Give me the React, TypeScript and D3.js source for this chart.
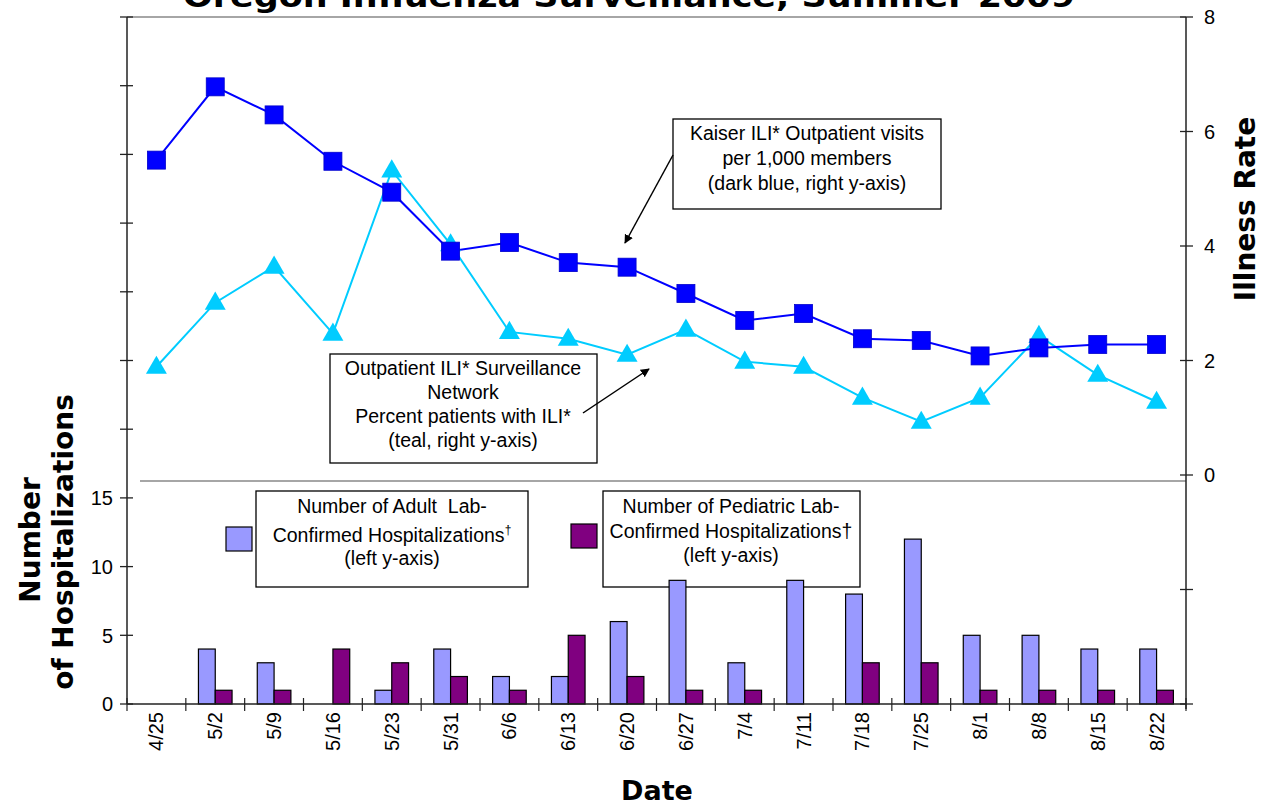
import React from "react";
import * as d3 from "d3";

const dates = ["4/25","5/2","5/9","5/16","5/23","5/31","6/6","6/13","6/20","6/27","7/4","7/11","7/18","7/25","8/1","8/8","8/15","8/22"];
const adultHosp = [0,4,3,0,1,4,2,2,6,9,3,9,8,12,5,5,4,4];
const pedHosp = [0,1,1,4,3,2,1,5,2,1,1,0,3,3,1,1,1,1];
const kaiserRate = [5.50,6.78,6.29,5.48,4.94,3.91,4.06,3.71,3.63,3.17,2.70,2.82,2.38,2.35,2.08,2.22,2.28,2.28];
const outpatientILI = [1.89,3.01,3.64,2.47,5.32,4.03,2.50,2.38,2.10,2.54,1.98,1.89,1.35,0.93,1.35,2.43,1.75,1.28];
const leftTicks = d3.range(0, 51, 5);
const leftTickLabels = [0, 5, 10, 15];
const rightTicks = d3.range(-4, 9, 2);
const rightTickLabels = [0, 2, 4, 6, 8];

const W = 1270, H = 805;
const L = 127, R = 1186, T = 17, B = 704;
const SANS = "'Liberation Sans', Arial, sans-serif";
const BOLD = "'DejaVu Sans', Verdana, sans-serif";
const ANN = 19.5;

export default function App() {
  const x = d3.scaleBand<string>().domain(dates).range([L, R]).paddingInner(0).paddingOuter(0);
  const yL = d3.scaleLinear().domain([0, 50]).range([B, T]);
  const yR = d3.scaleLinear().domain([-4, 8]).range([B, T]);
  const bw = x.bandwidth() / 3.5;
  const cx = (d: string) => (x(d) as number) + x.bandwidth() / 2;

  const line = d3.line<number>().x((_, i) => cx(dates[i])).y((v) => yR(v));
  const tri = d3.symbol().type(d3.symbolTriangle).size(190)();

  const boundaries = d3.range(0, dates.length + 1).map((i) => L + i * x.bandwidth());

  return (
    <svg width={W} height={H} style={{ position: "absolute", left: 0, top: 0, background: "#fff" }}>
      <defs>
        <marker id="ah" viewBox="0 0 10 10" refX="9" refY="5" markerWidth="9" markerHeight="9" orient="auto" markerUnits="userSpaceOnUse">
          <path d="M0,0 L10,5 L0,10 z" fill="#000" />
        </marker>
      </defs>
      <rect x={0} y={0} width={W} height={H} fill="#fff" />

      {/* title (cut off at top, as in the source) */}
      <text x={629} y={6.5} textAnchor="middle" fontFamily={BOLD} fontWeight="bold" fontSize={31} textLength={892} lengthAdjust="spacingAndGlyphs">Oregon Influenza Surveillance, Summer 2009</text>

      {/* grey frame lines */}
      <line x1={L} x2={R} y1={T} y2={T} stroke="#a6a6a6" strokeWidth={2} />
      <line x1={140} x2={R} y1={481} y2={481} stroke="#a6a6a6" strokeWidth={2} />

      {/* legends (drawn beneath the bars) */}
      <rect x={226} y={527} width={26} height={24} fill="#9999ff" stroke="#000" strokeWidth={1.2} />
      <rect x={256} y={491} width={272} height={96} fill="#fff" stroke="#000" strokeWidth={1.3} />
      <text fontFamily={SANS} fontSize={ANN} textAnchor="middle" xmlSpace="preserve">
        <tspan x={392} y={513}>{"Number of Adult\u00A0 Lab-"}</tspan>
        <tspan x={392} y={542}>Confirmed Hospitalizations<tspan fontSize={12} dy={-8}>†</tspan></tspan>
        <tspan x={392} y={565}>(left y-axis)</tspan>
      </text>
      <rect x={571} y={524} width={26} height={24} fill="#800080" stroke="#000" strokeWidth={1.2} />
      <rect x={603} y={491} width={257} height={96} fill="#fff" stroke="#000" strokeWidth={1.3} />
      <text fontFamily={SANS} fontSize={ANN} textAnchor="middle">
        <tspan x={731} y={513}>Number of Pediatric Lab-</tspan>
        <tspan x={731} y={538}>Confirmed Hospitalizations†</tspan>
        <tspan x={731} y={562}>(left y-axis)</tspan>
      </text>

      {/* bars */}
      {dates.map((d, i) => (
        <g key={d}>
          {adultHosp[i] > 0 && (
            <rect x={cx(d) - bw} y={yL(adultHosp[i])} width={bw} height={B - yL(adultHosp[i])} fill="#9999ff" stroke="#000" strokeWidth={1.2} />
          )}
          {pedHosp[i] > 0 && (
            <rect x={cx(d)} y={yL(pedHosp[i])} width={bw} height={B - yL(pedHosp[i])} fill="#800080" stroke="#000" strokeWidth={1.2} />
          )}
        </g>
      ))}

      {/* axes */}
      <line x1={L} x2={L} y1={T} y2={B} stroke="#222" strokeWidth={1.5} />
      <line x1={R} x2={R} y1={T} y2={B + 5} stroke="#222" strokeWidth={1.5} />
      <line x1={L} x2={R} y1={B} y2={B} stroke="#222" strokeWidth={1.5} />
      {leftTicks.map((t) => (
        <line key={"lt" + t} x1={L - 7} x2={L + 6} y1={yL(t)} y2={yL(t)} stroke="#222" strokeWidth={1.3} />
      ))}
      {leftTickLabels.map((t) => (
        <text key={"ll" + t} x={113} y={yL(t)} dy="0.36em" textAnchor="end" fontFamily={SANS} fontSize={20}>{t}</text>
      ))}
      {rightTicks.map((t) => (
        <line key={"rt" + t} x1={R - 6} x2={R + 7} y1={yR(t)} y2={yR(t)} stroke="#222" strokeWidth={1.3} />
      ))}
      {rightTickLabels.map((t) => (
        <text key={"rl" + t} x={1204} y={yR(t)} dy="0.36em" textAnchor="start" fontFamily={SANS} fontSize={20}>{t}</text>
      ))}
      {boundaries.map((b, i) => (
        <line key={"xt" + i} x1={b} x2={b} y1={B - 6} y2={B + 7} stroke="#222" strokeWidth={1.2} />
      ))}
      {dates.map((d) => (
        <text key={"xl" + d} transform={`translate(${cx(d)},712) rotate(-90)`} dy="0.35em" textAnchor="end" fontFamily={SANS} fontSize={20}>{d}</text>
      ))}

      {/* lines */}
      <path d={line(outpatientILI) as string} fill="none" stroke="#00ccff" strokeWidth={2} />
      <path d={line(kaiserRate) as string} fill="none" stroke="#0000ff" strokeWidth={2} />
      {outpatientILI.map((v, i) => (
        <path key={"tr" + i} d={tri as string} transform={`translate(${cx(dates[i])},${yR(v) + 1})`} fill="#00ccff" />
      ))}
      {kaiserRate.map((v, i) => (
        <rect key={"sq" + i} x={cx(dates[i]) - 9} y={yR(v) - 9} width={18} height={18} fill="#0000ff" stroke="#0000cc" strokeWidth={0.8} />
      ))}

      {/* Kaiser annotation */}
      <rect x={673} y={119} width={268} height={90} fill="#fff" stroke="#000" strokeWidth={1.3} />
      <text fontFamily={SANS} fontSize={ANN} textAnchor="middle">
        <tspan x={807} y={140}>Kaiser ILI* Outpatient visits</tspan>
        <tspan x={807} y={165}>per 1,000 members</tspan>
        <tspan x={807} y={190}>(dark blue, right y-axis)</tspan>
      </text>
      <line x1={673} y1={155} x2={625} y2={243} stroke="#000" strokeWidth={1.5} markerEnd="url(#ah)" />

      {/* Outpatient annotation */}
      <rect x={330} y={354} width={267} height={109} fill="#fff" stroke="#000" strokeWidth={1.3} />
      <text fontFamily={SANS} fontSize={ANN} textAnchor="middle">
        <tspan x={463} y={375}>Outpatient ILI* Surveillance</tspan>
        <tspan x={463} y={399}>Network</tspan>
        <tspan x={463} y={423}>Percent patients with ILI*</tspan>
        <tspan x={463} y={447}>(teal, right y-axis)</tspan>
      </text>
      <line x1={583} y1={413} x2={649} y2={369} stroke="#000" strokeWidth={1.5} markerEnd="url(#ah)" />

      {/* axis titles */}
      <text transform="translate(40,540) rotate(-90)" textAnchor="middle" fontFamily={BOLD} fontWeight="bold" fontSize={28}>Number</text>
      <text transform="translate(73,542) rotate(-90)" textAnchor="middle" fontFamily={BOLD} fontWeight="bold" fontSize={28}>of Hospitalizations</text>
      <text transform="translate(1255,209) rotate(-90)" textAnchor="middle" fontFamily={BOLD} fontWeight="bold" fontSize={28}>Illness Rate</text>
      <text x={657} y={800} textAnchor="middle" fontFamily={BOLD} fontWeight="bold" fontSize={27}>Date</text>
    </svg>
  );
}
